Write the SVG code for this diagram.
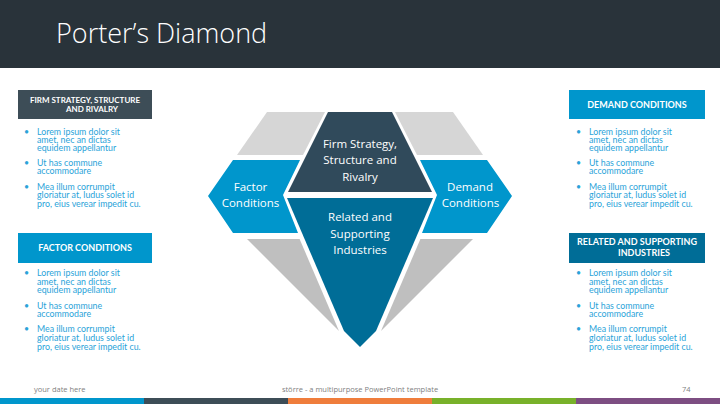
<svg xmlns="http://www.w3.org/2000/svg" width="720" height="404" viewBox="0 0 720 404">
<style>
.title{font-family:"Open Sans","DejaVu Sans",sans-serif;font-weight:300;font-size:27px;fill:#ffffff}
.hdr{font-family:Lato,"Liberation Sans",sans-serif;font-weight:700;font-size:8px;fill:#ffffff}
.hdr2{font-family:Lato,"Liberation Sans",sans-serif;font-weight:700;font-size:9px;fill:#ffffff}
.body{font-family:Lato,"Liberation Sans",sans-serif;font-size:8.8px;fill:#2aa3d9}
.bul{font-family:Lato,"Liberation Sans",sans-serif;font-size:8.8px;fill:#2aa3d9}
.lbl{font-family:"Open Sans","DejaVu Sans",sans-serif;font-size:11.5px;fill:#ffffff;text-anchor:middle}
.foot{font-family:"Open Sans","DejaVu Sans",sans-serif;font-size:7.5px;fill:#7f7f7f}
.gtop{fill:#d6d6d6}
.gbot{fill:#bfbfbf}
</style>
<rect x="0" y="0" width="720" height="68" fill="#29333a"/>
<text class="title" x="56" y="43">Porter’s Diamond</text>

<g id="box-firm">
<rect x="18" y="90" width="134" height="29" fill="#3d4d57"/>
<text class="hdr" x="85" y="102.5" text-anchor="middle">FIRM STRATEGY, STRUCTURE</text>
<text class="hdr" x="92" y="111.5" text-anchor="middle">AND RIVALRY</text>
<g class="bul"><text x="24" y="135">•</text><text x="24" y="166">•</text><text x="24" y="190">•</text></g>
<text class="body"><tspan x="37" y="135">Lorem ipsum dolor sit</tspan><tspan x="37" y="143">amet, nec an dictas</tspan><tspan x="37" y="151">equidem appellantur</tspan><tspan x="37" y="166">Ut has commune</tspan><tspan x="37" y="174">accommodare</tspan><tspan x="37" y="190">Mea illum corrumpit</tspan><tspan x="37" y="198">gloriatur at, ludus solet id</tspan><tspan x="37" y="207">pro, eius verear impedit cu.</tspan></text>
</g>

<g id="box-factor">
<rect x="18" y="233" width="134" height="30" fill="#0096cc"/>
<text class="hdr2" x="85" y="250.5" text-anchor="middle">FACTOR CONDITIONS</text>
<g class="bul"><text x="24" y="276">•</text><text x="24" y="309">•</text><text x="24" y="332">•</text></g>
<text class="body"><tspan x="37" y="276">Lorem ipsum dolor sit</tspan><tspan x="37" y="284.5">amet, nec an dictas</tspan><tspan x="37" y="293">equidem appellantur</tspan><tspan x="37" y="309">Ut has commune</tspan><tspan x="37" y="317">accommodare</tspan><tspan x="37" y="332">Mea illum corrumpit</tspan><tspan x="37" y="341">gloriatur at, ludus solet id</tspan><tspan x="37" y="349.5">pro, eius verear impedit cu.</tspan></text>
</g>

<g id="box-demand">
<rect x="569" y="90" width="136" height="29" fill="#0096cc"/>
<text class="hdr2" x="637" y="107.5" text-anchor="middle">DEMAND CONDITIONS</text>
<g class="bul"><text x="576" y="135">•</text><text x="576" y="166">•</text><text x="576" y="190">•</text></g>
<text class="body"><tspan x="589" y="135">Lorem ipsum dolor sit</tspan><tspan x="589" y="143">amet, nec an dictas</tspan><tspan x="589" y="151">equidem appellantur</tspan><tspan x="589" y="166">Ut has commune</tspan><tspan x="589" y="174">accommodare</tspan><tspan x="589" y="190">Mea illum corrumpit</tspan><tspan x="589" y="198">gloriatur at, ludus solet id</tspan><tspan x="589" y="207">pro, eius verear impedit cu.</tspan></text>
</g>

<g id="box-related">
<rect x="569" y="233" width="136" height="30" fill="#006d97"/>
<text class="hdr2" x="637" y="245" text-anchor="middle">RELATED AND SUPPORTING</text>
<text class="hdr2" x="644" y="255.5" text-anchor="middle">INDUSTRIES</text>
<g class="bul"><text x="576" y="276">•</text><text x="576" y="309">•</text><text x="576" y="332">•</text></g>
<text class="body"><tspan x="589" y="276">Lorem ipsum dolor sit</tspan><tspan x="589" y="284.5">amet, nec an dictas</tspan><tspan x="589" y="293">equidem appellantur</tspan><tspan x="589" y="309">Ut has commune</tspan><tspan x="589" y="317">accommodare</tspan><tspan x="589" y="332">Mea illum corrumpit</tspan><tspan x="589" y="341">gloriatur at, ludus solet id</tspan><tspan x="589" y="349.5">pro, eius verear impedit cu.</tspan></text>
</g>

<g id="diamond">
<polygon class="gtop" points="267,112 325,112 303,155 237,155"/>
<polygon class="gtop" points="395,112 453,112 483,155 417,155"/>
<polygon class="gbot" points="247,239 299.6,239 339,331"/>
<polygon class="gbot" points="473,239 420.4,239 381,331"/>
</g>

<g id="node-firm">
<polygon points="328,112 392,112 432,192 288,192" fill="#304a5b"/>
<text class="lbl"><tspan x="360" y="147.5">Firm Strategy,</tspan><tspan x="360" y="164">Structure and</tspan><tspan x="360" y="180.5">Rivalry</tspan></text>
</g>
<g id="node-factor">
<polygon points="233,160 300,160 283,195 298,233 233,233 208,196" fill="#0096cc"/>
<text class="lbl"><tspan x="250.5" y="191">Factor</tspan><tspan x="250.5" y="207">Conditions</tspan></text>
</g>
<g id="node-demand">
<polygon points="487,160 420,160 437,195 422,233 487,233 512,196" fill="#0096cc"/>
<text class="lbl"><tspan x="470" y="191">Demand</tspan><tspan x="470.5" y="207">Conditions</tspan></text>
</g>
<g id="node-related">
<polygon points="287,198 433,198 376,331 360,347 344,331" fill="#006d97"/>
<text class="lbl"><tspan x="360" y="221">Related and</tspan><tspan x="360" y="237.5">Supporting</tspan><tspan x="360" y="253.5">Industries</tspan></text>
</g>
<g id="connectors"></g>

<text class="foot" x="34" y="392">your date here</text>
<text class="foot" x="360" y="392" text-anchor="middle">större - a multipurpose PowerPoint template</text>
<text class="foot" x="682" y="392">74</text>
<rect x="0" y="398" width="144" height="6" fill="#0096cc"/>
<rect x="144" y="398" width="144" height="6" fill="#3d4d57"/>
<rect x="288" y="398" width="144" height="6" fill="#ef7d3c"/>
<rect x="432" y="398" width="144" height="6" fill="#78b12a"/>
<rect x="576" y="398" width="144" height="6" fill="#7d4e82"/>
</svg>
